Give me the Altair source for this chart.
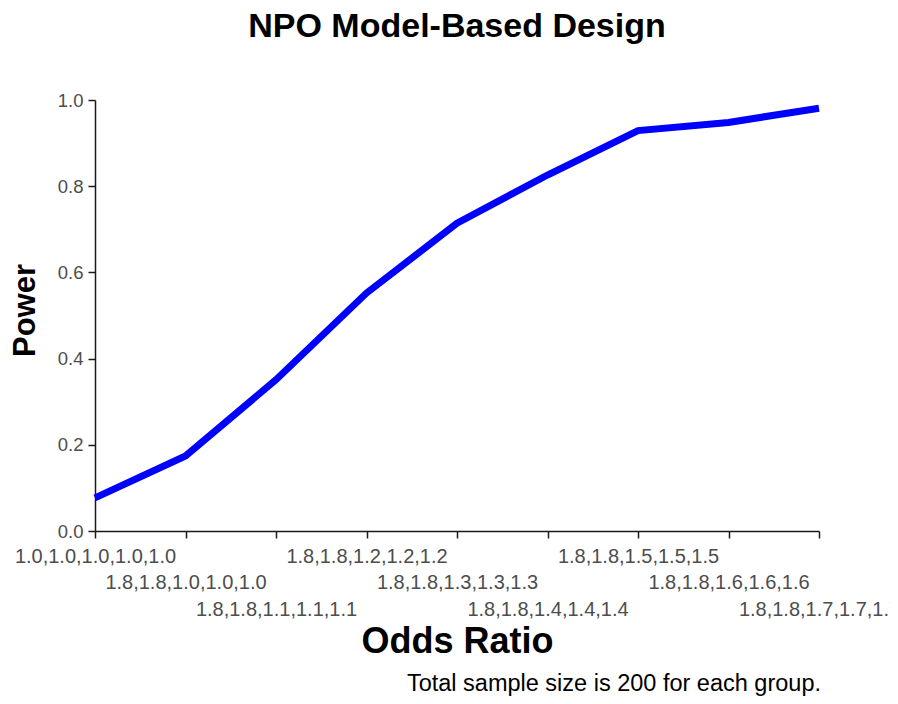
import json
import altair as alt
import pandas as pd

# ---- data ----
odds_ratio = [
    "1.0,1.0,1.0,1.0,1.0",
    "1.8,1.8,1.0,1.0,1.0",
    "1.8,1.8,1.1,1.1,1.1",
    "1.8,1.8,1.2,1.2,1.2",
    "1.8,1.8,1.3,1.3,1.3",
    "1.8,1.8,1.4,1.4,1.4",
    "1.8,1.8,1.5,1.5,1.5",
    "1.8,1.8,1.6,1.6,1.6",
    "1.8,1.8,1.7,1.7,1.7",
]
power = [0.077, 0.174, 0.351, 0.552, 0.714, 0.826, 0.929, 0.948, 0.981]
y_ticks = [0.0, 0.2, 0.4, 0.6, 0.8, 1.0]
title_text = "NPO Model-Based Design"
x_title = "Odds Ratio"
y_title = "Power"
caption = "Total sample size is 200 for each group."

df = pd.DataFrame({"odds": odds_ratio, "power": power})
cap_df = pd.DataFrame({"t": [caption]})

W, H = 724, 431
FONT = "Liberation Sans"
LABEL_GREY = "#4d4d4d"
ROW_STEP = 26.5
BASE_PAD = 8

arr = json.dumps(odds_ratio)
row = f"(indexof({arr}, datum.value) % 3)"

label_padding = {
    "condition": [
        {"test": f"{row} == 1", "value": BASE_PAD + ROW_STEP},
        {"test": f"{row} == 2", "value": BASE_PAD + 2 * ROW_STEP},
    ],
    "value": BASE_PAD,
}

line = alt.Chart(df).mark_line(color="#0000FF", strokeWidth=7).encode(
    x=alt.X(
        "odds:N",
        sort=odds_ratio,
        scale=alt.Scale(type="point", padding=0),
        axis=alt.Axis(
            title=x_title,
            labelAngle=0,
            labelOverlap=False,
            labelFont=FONT,
            labelFontSize=20,
            labelColor=LABEL_GREY,
            labelPadding=label_padding,
            tickSize=7,
            tickWidth=1.5,
            tickColor="#1a1a1a",
            domainColor="#1a1a1a",
            domainWidth=1.5,
            titleFont=FONT,
            titleFontSize=36,
            titleFontWeight="bold",
            titleColor="black",
            titleX=W / 2,
            titleY=121,
            titleBaseline="alphabetic",
            grid=False,
        ),
    ),
    y=alt.Y(
        "power:Q",
        scale=alt.Scale(domain=[0, 1], nice=False, zero=True),
        axis=alt.Axis(
            title=y_title,
            values=y_ticks,
            format=".1f",
            labelFont=FONT,
            labelFontSize=18.5,
            labelColor=LABEL_GREY,
            labelPadding=5,
            tickSize=7,
            tickWidth=1.5,
            tickColor="#1a1a1a",
            domainColor="#1a1a1a",
            domainWidth=1.5,
            titleFont=FONT,
            titleFontSize=31,
            titleFontWeight="bold",
            titleColor="black",
            titleX=-61,
            titleY=210,
            titleBaseline="alphabetic",
            grid=False,
        ),
    ),
)

cap = alt.Chart(cap_df).mark_text(
    align="right", baseline="alphabetic", fontSize=23.5, font=FONT, color="black"
).encode(text="t:N", x=alt.value(W + 2), y=alt.value(H + 160))

chart = (
    alt.layer(line, cap)
    .properties(
        width=W,
        height=H,
        title=alt.TitleParams(
            title_text,
            font=FONT,
            fontSize=34,
            fontWeight="bold",
            color="black",
            anchor="middle",
            frame="group",
            offset=47,
        ),
        padding={"left": 87, "top": 92, "right": 71, "bottom": 165},
        autosize=alt.AutoSizeParams(type="none"),
    )
    .configure(background="white")
    .configure_view(strokeWidth=0, stroke="transparent")
)

chart.save("out.html", embed_options={"renderer": "svg", "actions": False})
